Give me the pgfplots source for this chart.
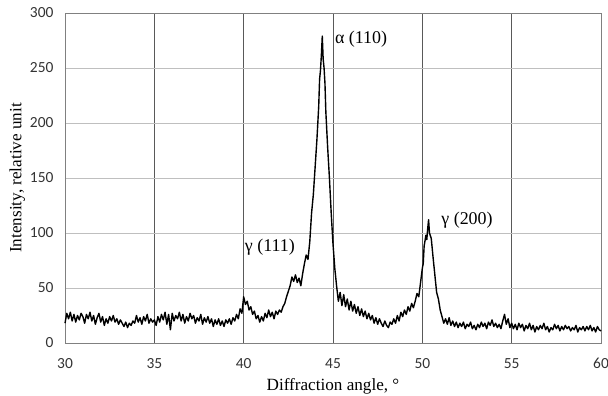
\documentclass[border=0pt]{standalone}
\usepackage{pgfplots}
\pgfplotsset{compat=1.18}
\usepackage{pgfplotstable}
\usepackage{fontspec}
\setmainfont{Liberation Serif}
\newfontfamily\tickfont{Carlito}
\pgfplotstableread{
x y
30.0 18
30.1 27
30.2 22
30.3 28
30.4 20
30.5 26
30.6 19
30.7 25
30.8 21
30.9 27
31.0 24
31.1 18
31.2 26
31.3 22
31.4 28
31.5 20
31.6 25
31.7 17
31.8 23
31.9 27
32.0 19
32.1 24
32.2 16
32.3 22
32.4 18
32.5 24
32.6 20
32.7 25
32.8 19
32.9 22
33.0 17
33.1 21
33.2 18
33.3 15
33.4 19
33.5 14
33.6 18
33.7 16
33.8 20
33.9 18
34.0 25
34.1 19
34.2 23
34.3 17
34.4 24
34.5 20
34.6 26
34.7 18
34.8 22
34.9 19
35.0 21
35.1 16
35.2 24
35.3 19
35.4 26
35.5 21
35.6 28
35.7 17
35.8 26
35.9 12
36.0 27
36.1 20
36.2 25
36.3 22
36.4 28
36.5 20
36.6 26
36.7 18
36.8 24
36.9 20
37.0 27
37.1 22
37.2 25
37.3 18
37.4 23
37.5 20
37.6 26
37.7 17
37.8 23
37.9 19
38.0 24
38.1 18
38.2 22
38.3 15
38.4 21
38.5 17
38.6 22
38.7 16
38.8 20
38.9 15
39.0 21
39.1 18
39.2 22
39.3 17
39.4 23
39.5 20
39.6 26
39.7 22
39.8 31
39.9 27
40.0 42
40.1 35
40.2 38
40.3 30
40.4 33
40.5 26
40.6 29
40.7 22
40.8 25
40.9 19
41.0 24
41.1 20
41.2 27
41.3 23
41.4 30
41.5 24
41.6 28
41.7 22
41.8 29
41.9 26
42.0 30
42.1 28
42.2 33
42.3 36
42.4 42
42.5 47
42.6 52
42.7 60
42.8 56
42.9 62
43.0 55
43.1 59
43.2 52
43.3 63
43.4 72
43.5 80
43.6 76
43.7 92
43.8 118
43.9 135
44.0 160
44.1 185
44.2 215
44.25 240
44.3 248
44.35 262
44.4 279
44.45 258
44.5 250
44.55 236
44.6 210
44.7 178
44.8 150
44.9 118
45.0 90
45.1 68
45.2 52
45.3 38
45.4 46
45.5 34
45.6 44
45.7 33
45.8 40
45.9 30
46.0 38
46.1 29
46.2 35
46.3 27
46.4 33
46.5 25
46.6 31
46.7 24
46.8 29
46.9 22
47.0 27
47.1 21
47.2 25
47.3 18
47.4 23
47.5 17
47.6 22
47.7 18
47.8 15
47.9 20
48.0 16
48.1 14
48.2 19
48.3 17
48.4 22
48.5 18
48.6 25
48.7 20
48.8 28
48.9 24
49.0 30
49.1 26
49.2 33
49.3 29
49.4 36
49.5 32
49.6 38
49.7 45
49.8 42
49.9 55
50.0 68
50.05 72
50.1 88
50.2 98
50.25 94
50.3 104
50.35 112
50.4 100
50.5 95
50.6 78
50.7 62
50.8 46
50.9 40
51.0 30
51.1 24
51.2 18
51.3 22
51.4 17
51.5 23
51.6 16
51.7 20
51.8 15
51.9 19
52.0 14
52.1 18
52.2 15
52.3 19
52.4 13
52.5 17
52.6 15
52.7 19
52.8 13
52.9 16
53.0 12
53.1 17
53.2 14
53.3 19
53.4 15
53.5 18
53.6 13
53.7 19
53.8 16
53.9 21
54.0 15
54.1 18
54.2 14
54.3 17
54.4 13
54.5 20
54.6 26
54.7 17
54.8 22
54.9 14
55.0 18
55.1 13
55.2 17
55.3 12
55.4 18
55.5 14
55.6 17
55.7 11
55.8 16
55.9 13
56.0 18
56.1 12
56.2 16
56.3 10
56.4 15
56.5 12
56.6 16
56.7 13
56.8 18
56.9 12
57.0 15
57.1 10
57.2 14
57.3 12
57.4 17
57.5 13
57.6 16
57.7 11
57.8 15
57.9 12
58.0 16
58.1 13
58.2 15
58.3 11
58.4 14
58.5 12
58.6 16
58.7 10
58.8 14
58.9 12
59.0 15
59.1 11
59.2 15
59.3 12
59.4 16
59.5 11
59.6 14
59.7 10
59.8 15
59.9 12
60.0 11
}\xrd
\begin{document}
\begin{tikzpicture}
\begin{axis}[
  scale only axis,
  width=536bp, height=330bp,
  xmin=30, xmax=60, ymin=0, ymax=300,
  xtick={30,35,...,60}, ytick={0,50,...,300},
  major tick length=0pt,
  axis line style={draw=black!50},
  xmajorgrids, ymajorgrids,
  x grid style={draw=black!65, line width=0.8pt},
  y grid style={draw=black!25, line width=0.8pt},
  /pgf/number format/assume math mode=true,
  ticklabel style={font=\tickfont\fontsize{15.5}{17}\selectfont, text=black!80},
  xticklabel style={yshift=-12bp},
  yticklabel style={xshift=-8bp},
  xlabel={Diffraction angle, °},
  ylabel={Intensity, relative unit},
  label style={font=\fontsize{17.2}{19}\selectfont},
  xlabel style={yshift=-3bp},
  ylabel style={yshift=-2bp},
  clip=false,
]
\addplot[black, line width=1.4pt, line join=round] table[x=x,y=y] {\xrd};
\node[anchor=west, inner sep=1pt, font=\fontsize{18}{20}\selectfont] at (axis cs:45.05,276) {α (110)};
\node[font=\fontsize{18}{20}\selectfont] at (axis cs:41.47,87) {γ (111)};
\node[anchor=west, inner sep=1pt, font=\fontsize{18}{20}\selectfont] at (axis cs:51.0,112) {γ (200)};
\coordinate (ll) at (rel axis cs:0,0);
\coordinate (ur) at (rel axis cs:1,1);
\end{axis}
\pgfresetboundingbox
\path[use as bounding box] ([xshift=-65bp,yshift=-53bp]ll) rectangle ([xshift=7bp,yshift=13bp]ur);
\end{tikzpicture}
\end{document}
